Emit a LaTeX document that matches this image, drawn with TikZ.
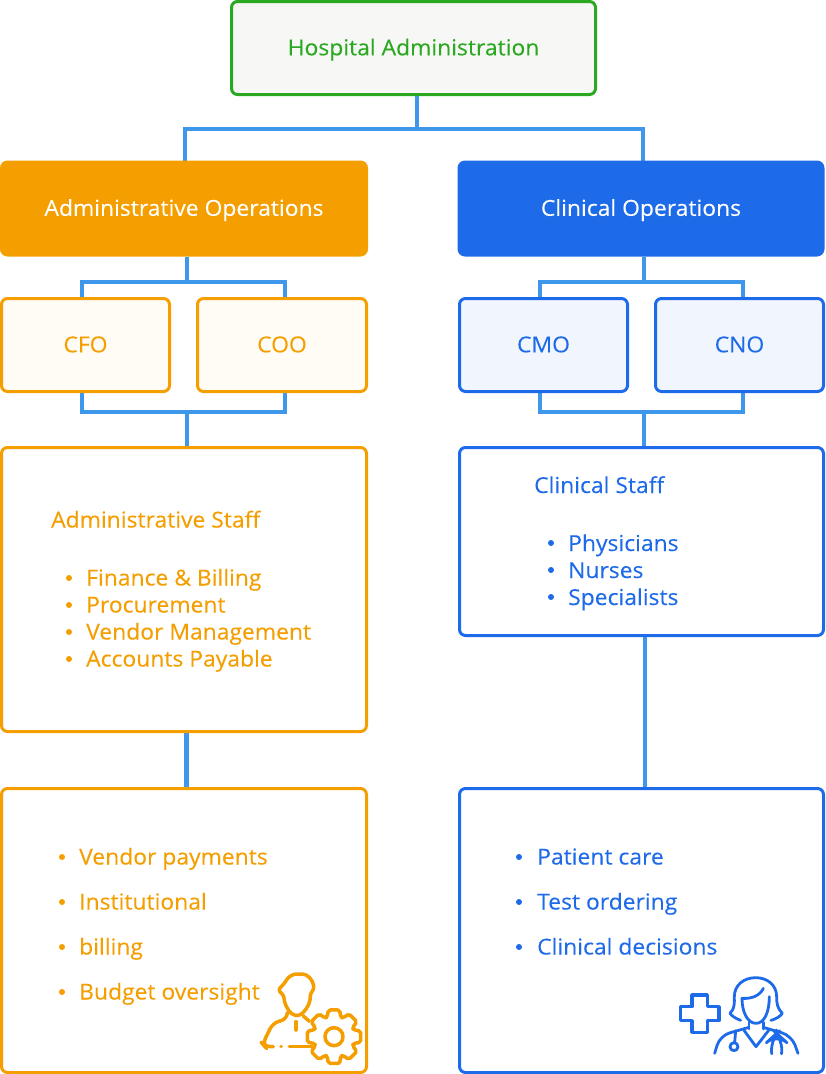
\documentclass[tikz,border=0pt]{standalone}
\usepackage{fontspec}
\setmainfont{Open Sans}[FakeStretch=1.04,FakeBold=0.12]
\usetikzlibrary{backgrounds}
\definecolor{grn}{HTML}{2BA821}
\definecolor{org}{HTML}{F49E00}
\definecolor{blu}{HTML}{1E6BE9}
\definecolor{con}{HTML}{3F97EC}
\definecolor{pog}{HTML}{FFFCF5}
\definecolor{pbl}{HTML}{F1F6FE}
\definecolor{pgr}{HTML}{F7F7F5}
\tikzset{
 x=1pt,y=-1pt,
 basebox/.style={draw,line width=3pt,rounded corners=6pt,inner sep=0pt,text height=14.6pt,text depth=0pt,font=\fontsize{22}{26}\selectfont},
 obox/.style={basebox,draw=org,fill=white,text=org},
 bbox/.style={basebox,draw=blu,fill=white,text=blu},
 ooff/.style={obox,fill=pog},
 boff/.style={bbox,fill=pbl},
 txt/.style={anchor=base west,inner sep=0pt,font=\fontsize{22}{26}\selectfont},
 otxt/.style={txt,text=org},
 btxt/.style={txt,text=blu},
 dot/.style={circle,inner sep=0pt,minimum size=6pt},
 odot/.style={dot,fill=org},
 bdot/.style={dot,fill=blu},
 conn/.style={draw=con,line width=4pt},
 icon/.style={line width=3.5pt,line cap=round,line join=round,fill=none},
 dicon/.style={icon,line width=2.8pt},
}
\begin{document}
\begin{tikzpicture}
\useasboundingbox (0,0) rectangle (825,1074);
\node[basebox,draw=grn,fill=pgr,text=grn,minimum width=364pt,minimum height=93pt] (hosp) at (413.5,48) {Hospital Administration};
\node[basebox,draw=org,fill=org,text=white,minimum width=365pt,minimum height=93pt] (admin) at (184,208.5) {Administrative Operations};
\node[basebox,draw=blu,fill=blu,text=white,minimum width=364pt,minimum height=93pt] (clin) at (641,208.5) {Clinical Operations};
\node[ooff,minimum width=168pt,minimum height=93pt] (cfo) at (85.5,345) {CFO};
\node[ooff,minimum width=169pt,minimum height=93pt] (coo) at (282,345) {COO};
\node[boff,minimum width=168pt,minimum height=93pt] (cmo) at (543.5,345) {CMO};
\node[boff,minimum width=168pt,minimum height=93pt] (cno) at (739.5,345) {CNO};
\node[obox,minimum width=365pt,minimum height=284pt] (astaff) at (184,589.5) {};
\node[bbox,minimum width=364pt,minimum height=188pt] (cstaff) at (641.5,541.5) {};
\node[obox,minimum width=365pt,minimum height=284pt] (aduty) at (184,930.5) {};
\node[bbox,minimum width=364pt,minimum height=284pt] (cduty) at (641.5,930.5) {};
% text
\node[otxt] (t1) at (51,527.5) {Administrative Staff};
\foreach \n/\y/\s in {a/585.5/Finance \& Billing,b/612.5/Procurement,c/639.5/Vendor Management,d/666.5/Accounts Payable}{
 \node[odot] (d\n) at (69,\y-7.5) {};
 \node[otxt] (l\n) at (86,\y) {\s};
}
\node[btxt] (t2) at (534,493) {Clinical Staff};
\foreach \n/\y/\s in {e/551/Physicians,f/578/Nurses,g/605/Specialists}{
 \node[bdot] (d\n) at (551,\y-8) {};
 \node[btxt] (l\n) at (568,\y) {\s};
}
\foreach \n/\y/\s in {h/864.5/Vendor payments,i/909.5/Institutional,j/954.5/billing,k/999.5/Budget oversight}{
 \node[odot] (d\n) at (62,\y-7.5) {};
 \node[otxt] (l\n) at (79,\y) {\s};
}
\foreach \n/\y/\s in {m/864.5/Patient care,n/909.5/Test ordering,o/954.5/Clinical decisions}{
 \node[bdot] (d\n) at (519,\y-7.5) {};
 \node[btxt] (l\n) at (537,\y) {\s};
}
% connectors
\coordinate (j0) at (416.5,129);
\coordinate (j0l) at (184.5,129);
\coordinate (j0r) at (643,129);
\coordinate (j1) at (186.5,282);
\coordinate (j1l) at (82,282);
\coordinate (j1r) at (285,282);
\coordinate (j2) at (186.5,412);
\coordinate (j2l) at (82,412);
\coordinate (j2r) at (285,412);
\coordinate (j3) at (644,282);
\coordinate (j3l) at (540,282);
\coordinate (j3r) at (743,282);
\coordinate (j4) at (644,412);
\coordinate (j4l) at (540,412);
\coordinate (j4r) at (743,412);
\coordinate (j5) at (645,712);
\begin{scope}[on background layer]
\draw[conn] (hosp.south -| j0) -- (j0);
\draw[conn,line join=miter] (admin.north -| j0l) -- (j0l) -- (j0r) -- (clin.north -| j0r);
\draw[conn] (admin.south -| j1) -- (j1);
\draw[conn,line join=miter] (cfo.north -| j1l) -- (j1l) -- (j1r) -- (coo.north -| j1r);
\draw[conn,line join=miter] (cfo.south -| j2l) -- (j2l) -- (j2r) -- (coo.south -| j2r);
\draw[conn] (j2) -- (astaff.north -| j2);
\draw[conn] (clin.south -| j3) -- (j3);
\draw[conn,line join=miter] (cmo.north -| j3l) -- (j3l) -- (j3r) -- (cno.north -| j3r);
\draw[conn,line join=miter] (cmo.south -| j4l) -- (j4l) -- (j4r) -- (cno.south -| j4r);
\draw[conn] (j4) -- (cstaff.north -| j4);
\draw[conn,line width=5pt] (astaff.south -| j2) -- (aduty.north -| j2);
\draw[conn] (cstaff.south -| j5) -- (cduty.north -| j5);
\end{scope}
% person-and-gear icon
\begin{scope}[shift={(250,960)},x=.3333pt,y=-.3333pt,draw=org,icon]
\draw[icon,rounded corners=3pt] (130,165) .. controls (112,150) and (102,125) .. (103,108) -- (84,90) -- (105,68) .. controls (115,50) and (130,42) .. (148,42) .. controls (172,42) and (190,60) .. (192,88) -- (180,102) .. controls (182,130) and (165,155) .. (145,168) -- cycle;
\draw[icon,rounded corners=6pt] (112,162) -- (112,176) -- (68,190) -- (38,252) -- (45,260) -- (70,260);
\draw[icon] (160,168) -- (178,184);
\draw[icon] (138,185) -- (138,210);
\draw[icon] (93,260) -- (94,260);
\draw[icon] (118,260) -- (185,260);
\begin{scope}[shift={(252,230)}]
\draw[icon,rounded corners=2pt] (78:82)
 foreach \a in {0,45,...,315}{ -- (\a+90-12:82) -- (\a+90+12:82) -- (\a+90+19:62) -- (\a+135-19:62) } -- cycle;
\draw[icon] (0,0) circle (27);
\end{scope}
\end{scope}
% doctor-and-cross icon
\begin{scope}[shift={(670,965)},x=.3333pt,y=-.3333pt,draw=blu,dicon]
\draw[icon] (66,90) -- (112,90) -- (112,125) -- (147,125) -- (147,167) -- (112,167) -- (112,202) -- (66,202) -- (66,167) -- (32,167) -- (32,125) -- (66,125) -- cycle;
\draw[dicon] (212,166) .. controls (195,160) and (185,152) .. (180,145) .. controls (195,130) and (193,115) .. (193,95) .. controls (193,60) and (222,38) .. (257,38) .. controls (292,38) and (320,60) .. (320,95) .. controls (320,115) and (322,130) .. (337,145) .. controls (330,155) and (318,162) .. (303,166);
\draw[dicon] (216,100) .. controls (245,102) and (270,92) .. (280,70);
\draw[dicon] (216,100) .. controls (216,140) and (232,175) .. (258,175) .. controls (284,175) and (298,140) .. (298,95);
\draw[dicon] (237,172) -- (237,192);
\draw[dicon] (280,172) -- (280,192);
\draw[dicon] (222,196) -- (258,245) -- (296,196);
\draw[dicon,rounded corners=10pt] (134,265) -- (150,212) -- (237,187);
\draw[dicon,rounded corners=10pt] (384,265) -- (365,212) -- (280,187);
\draw[dicon] (197,197) -- (194,233);
\draw[dicon] (192,245) circle (12);
\draw[dicon,rounded corners=14pt] (305,264) -- (298,225) -- (320,205) -- (342,225) -- (335,264);
\draw[dicon] (320,195) -- (320,205);
\end{scope}
\end{tikzpicture}
\end{document}
